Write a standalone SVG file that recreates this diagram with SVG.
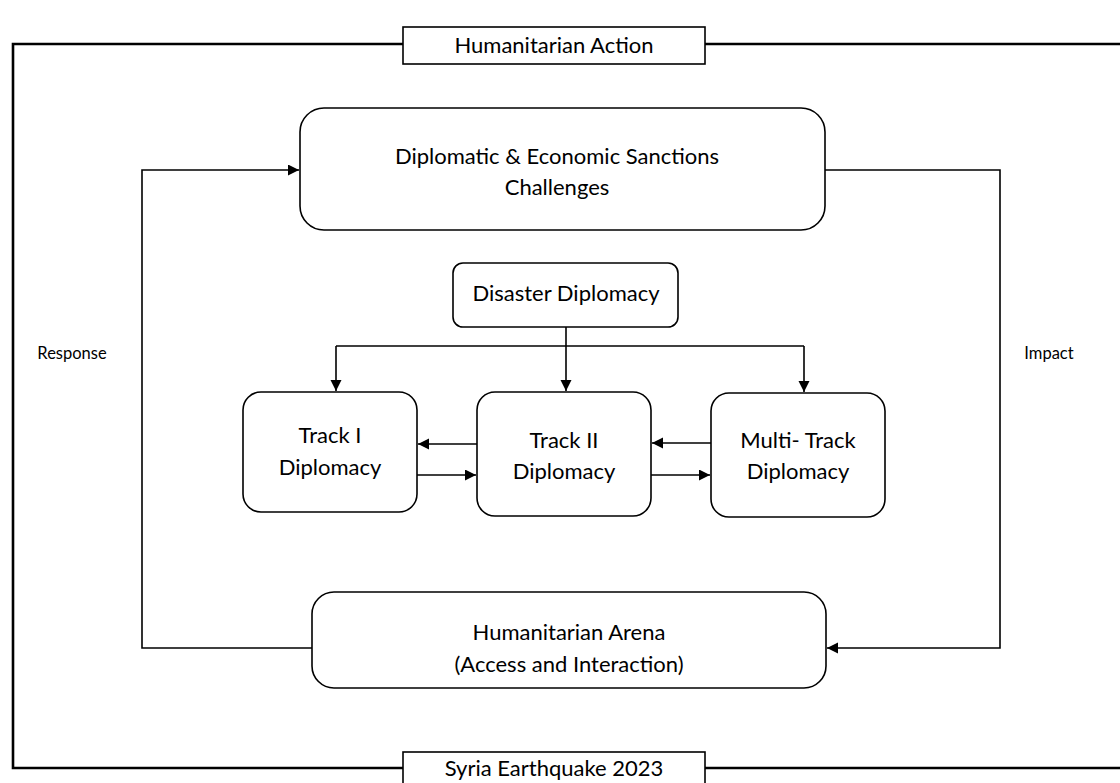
<svg xmlns="http://www.w3.org/2000/svg" width="1120" height="783" viewBox="0 0 1120 783">
<style>
.box{fill:#fff;stroke:#000;stroke-width:1.6}
.ln{fill:none;stroke:#000;stroke-width:1.6}
.fr{fill:none;stroke:#000;stroke-width:2.6}
.t{font-family:Lato,"Open Sans","Liberation Sans",sans-serif;font-size:22px;fill:#000;text-anchor:middle}
.s{font-family:Lato,"Open Sans","Liberation Sans",sans-serif;font-size:16.5px;fill:#000;text-anchor:middle}
</style>
<defs>
<marker id="ah" markerWidth="12" markerHeight="12" refX="11" refY="5.5" orient="auto" markerUnits="userSpaceOnUse">
<path d="M0,0 L11,5.5 L0,11 Z" fill="#000"/>
</marker>
</defs>
<rect width="1120" height="783" fill="#fff"/>
<g id="frame">
<path class="fr" d="M403,44 H13 V768 H403"/>
<path class="fr" d="M705,44 H1120"/>
<path class="fr" d="M705,768 H1120"/>
</g>
<g id="connectors">
<path class="ln" d="M312,648 H142 V170 H299" marker-end="url(#ah)"/>
<path class="ln" d="M825,170 H1000 V648 H827" marker-end="url(#ah)"/>
<path class="ln" d="M566,327 V391" marker-end="url(#ah)"/>
<path class="ln" d="M336,346 H804"/>
<path class="ln" d="M336,346 V391" marker-end="url(#ah)"/>
<path class="ln" d="M804,346 V392" marker-end="url(#ah)"/>
<path class="ln" d="M477,444 H418" marker-end="url(#ah)"/>
<path class="ln" d="M417,475 H476" marker-end="url(#ah)"/>
<path class="ln" d="M711,443 H652" marker-end="url(#ah)"/>
<path class="ln" d="M651,475 H710" marker-end="url(#ah)"/>
</g>
<g id="humanitarian-action">
<rect class="box" x="403" y="27" width="302" height="37"/>
<text class="t" x="554" y="53">Humanitarian Action</text>
</g>
<g id="syria-earthquake">
<rect class="box" x="403" y="752" width="302" height="40"/>
<text class="t" x="554" y="776">Syria Earthquake 2023</text>
</g>
<g id="sanctions">
<rect class="box" x="300" y="108" width="525" height="122" rx="24"/>
<text class="t" x="557" y="164">Diplomatic &amp; Economic Sanctions</text>
<text class="t" x="557" y="195">Challenges</text>
</g>
<g id="disaster-diplomacy">
<rect class="box" x="453" y="263" width="225" height="64" rx="10"/>
<text class="t" x="566" y="301">Disaster Diplomacy</text>
</g>
<g id="track1">
<rect class="box" x="243" y="392" width="174" height="120" rx="18"/>
<text class="t" x="330" y="443">Track I</text>
<text class="t" x="330" y="475">Diplomacy</text>
</g>
<g id="track2">
<rect class="box" x="477" y="392" width="174" height="124" rx="18"/>
<text class="t" x="564" y="448">Track II</text>
<text class="t" x="564" y="479">Diplomacy</text>
</g>
<g id="multitrack">
<rect class="box" x="711" y="393" width="174" height="124" rx="18"/>
<text class="t" x="798" y="448">Multi- Track</text>
<text class="t" x="798" y="479">Diplomacy</text>
</g>
<g id="arena">
<rect class="box" x="312" y="592" width="514" height="96" rx="22"/>
<text class="t" x="569" y="640">Humanitarian Arena</text>
<text class="t" x="569" y="672">(Access and Interaction)</text>
</g>
<g id="labels">
<text class="s" x="72" y="359">Response</text>
<text class="s" x="1049" y="359">Impact</text>
</g>
</svg>
